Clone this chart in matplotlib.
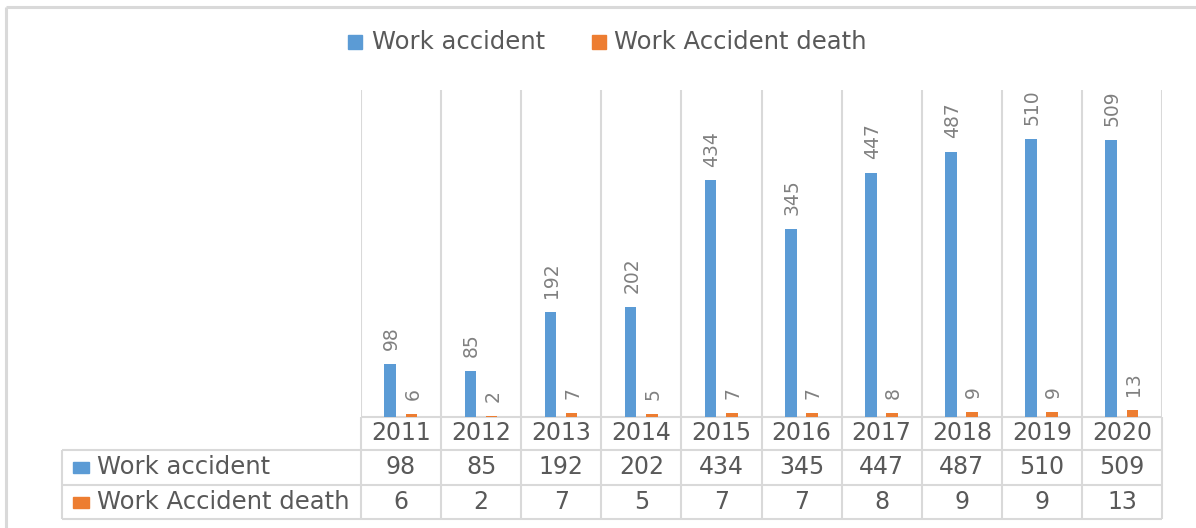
import matplotlib

matplotlib.use('Agg')
import numpy as np
import matplotlib.pyplot as plt
from matplotlib.patches import Rectangle

years = ['2011', '2012', '2013', '2014', '2015', '2016', '2017', '2018', '2019', '2020']
work_accident = [98, 85, 192, 202, 434, 345, 447, 487, 510, 509]
accident_death = [6, 2, 7, 5, 7, 7, 8, 9, 9, 13]
series_names = ['Work accident', 'Work Accident death']

BLUE = '#5b9bd5'
ORANGE = '#ed7d31'
GRID = '#d9d9d9'
TXT = '#595959'
LBL = '#808080'

W, H = 1196, 528
fig = plt.figure(figsize=(W / 100, H / 100), dpi=100)

# overlay axes in pixel coords for frame, legend and data table
ov = fig.add_axes([0, 0, 1, 1])
ov.set_xlim(0, W)
ov.set_ylim(H, 0)
ov.axis('off')

# plot area
x0, x1, ybase, ytop = 361, 1162, 417, 90
ax = fig.add_axes([x0 / W, 1 - ybase / H, (x1 - x0) / W, (ybase - ytop) / H])
n = len(years)
x = np.arange(n)
ax.set_xlim(-0.5, n - 0.5)
ax.set_ylim(0, 600)
ax.axis('off')
ax.vlines(np.arange(n + 1) - 0.5, 0, 600, color=GRID, lw=1.5, zorder=0)

bw = 0.145
b1 = ax.bar(x - 0.135, work_accident, bw, color=BLUE, zorder=2)
b2 = ax.bar(x + 0.13, accident_death, bw, color=ORANGE, zorder=2)
for bars, vals in ((b1, work_accident), (b2, accident_death)):
    for rect, v in zip(bars, vals):
        ax.annotate(str(v), (rect.get_x() + rect.get_width() / 2, v), xytext=(1, 10),
                    textcoords='offset points', rotation=90, ha='center', va='bottom',
                    fontsize=13.5, color=LBL)

# outer frame
ov.plot([6, 6], [7, H], color=GRID, lw=2.2, solid_capstyle='butt')
ov.plot([6, W], [7, 7], color=GRID, lw=2.2, solid_capstyle='butt')

# legend
ov.add_patch(Rectangle((348, 35), 14, 14, color=BLUE))
ov.text(372, 42, series_names[0], fontsize=17.5, color=TXT, va='center', ha='left')
ov.add_patch(Rectangle((592, 35), 14, 14, color=ORANGE))
ov.text(614, 42, series_names[1], fontsize=17.5, color=TXT, va='center', ha='left')

# data table
tl = 62
rows = [417, 450, 485, 519]
edges = x0 + (x1 - x0) * np.arange(n + 1) / n
centers = (edges[:-1] + edges[1:]) / 2
ov.hlines(rows[0], x0, x1, color=GRID, lw=1.5)
ov.hlines(rows[1:], tl, x1, color=GRID, lw=1.5)
ov.vlines(edges, rows[0], rows[-1], color=GRID, lw=1.5)
ov.vlines(tl, rows[1], rows[-1], color=GRID, lw=1.5)

ymid = [(rows[i] + rows[i + 1]) / 2 for i in range(3)]
for cx, yr, a, d in zip(centers, years, work_accident, accident_death):
    ov.text(cx, ymid[0], yr, fontsize=17, color=TXT, ha='center', va='center')
    ov.text(cx, ymid[1], str(a), fontsize=17, color=TXT, ha='center', va='center')
    ov.text(cx, ymid[2], str(d), fontsize=17, color=TXT, ha='center', va='center')
for ym, name, col in ((ymid[1], series_names[0], BLUE), (ymid[2], series_names[1], ORANGE)):
    ov.add_patch(Rectangle((73, ym - 5.5), 16, 11, color=col))
    ov.text(97, ym, name, fontsize=17.5, color=TXT, ha='left', va='center')

fig.savefig('out.png', dpi=100)
